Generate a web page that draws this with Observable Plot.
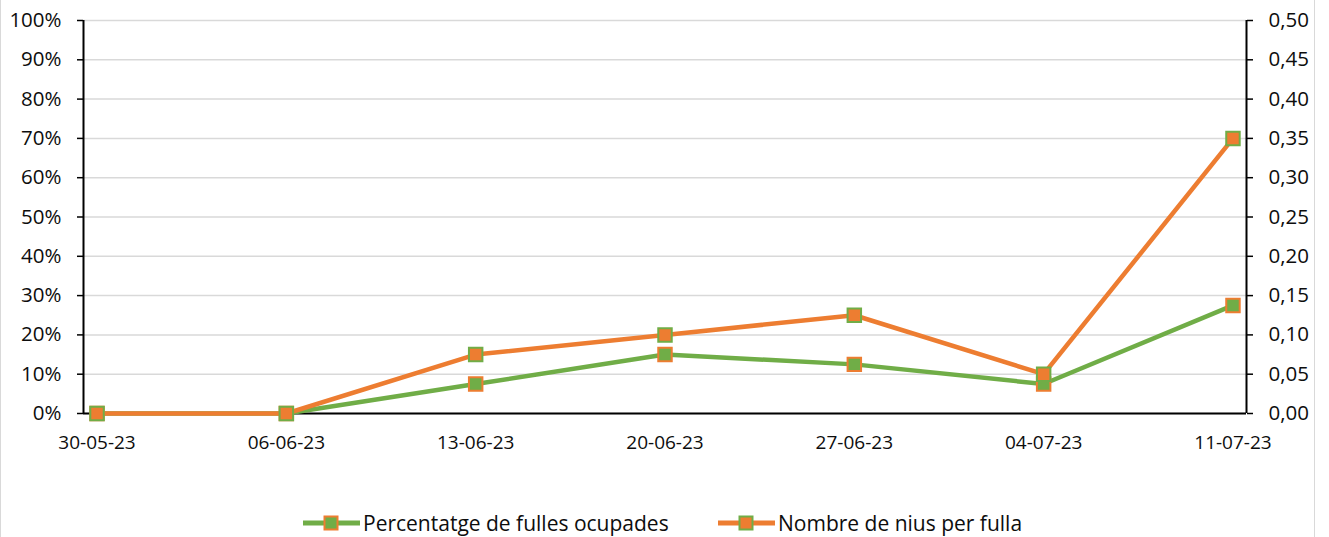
<!DOCTYPE html>
<html>
<head>
<meta charset="utf-8">
<script src="https://cdn.jsdelivr.net/npm/d3@7"></script>
<script src="https://cdn.jsdelivr.net/npm/@observablehq/plot@0.6"></script>
<style>
  html, body { margin: 0; padding: 0; background: #fff; }
  #wrap { position: relative; width: 1313px; height: 537px; border-left: 1px solid #d9d9d9; border-right: 1px solid #d9d9d9; overflow: hidden; font-family: "Open Sans", sans-serif; }
  #chart { position: absolute; left: -1px; top: 0; width: 1329px; }
  #chart svg { max-width: none !important; }
  #legend { position: absolute; left: -1px; top: 508px; width: 1329px; height: 30px; font-size: 21px; color: #0d0d0d; }
  .item { position: absolute; top: 0; display: flex; align-items: center; height: 30px; }
  .item svg { margin-right: 3px; }
</style>
</head>
<body>
<div id="wrap">
  <div id="chart"></div>
  <div id="legend"></div>
</div>
<script>
const dates = ["2023-05-30", "2023-06-06", "2023-06-13", "2023-06-20", "2023-06-27", "2023-07-04", "2023-07-11"];
const percentatge = [0, 0, 0.075, 0.15, 0.125, 0.075, 0.275];
const nius = [0, 0, 0.075, 0.10, 0.125, 0.05, 0.35];
const leftTicks = [0, 0.1, 0.2, 0.3, 0.4, 0.5, 0.6, 0.7, 0.8, 0.9, 1.0];
const seriesNames = ["Percentatge de fulles ocupades", "Nombre de nius per fulla"];
const green = "#70ad47", orange = "#ed7d31";

const parse = d3.utcParse("%Y-%m-%d");
const xs = dates.map(parse);
const half = 12 * 3600 * 1000;
const xDomain = [new Date(+xs[0] - half), new Date(+xs[xs.length - 1] + half)];
const rightMax = 0.5;

const dataG = xs.map((d, i) => ({date: d, v: percentatge[i]}));
const dataO = xs.map((d, i) => ({date: d, v: nius[i] / rightMax}));

const fmtDate = d3.utcFormat("%d-%m-%y");
const comma = v => v.toFixed(2).replace(".", ",");

const plot = Plot.plot({
  width: 1329,
  height: 480,
  marginLeft: 83,
  marginRight: 83,
  marginTop: 20,
  marginBottom: 67,
  style: {fontFamily: "Open Sans", fontSize: "19px", color: "#0d0d0d", background: "transparent", maxWidth: "none"},
  x: {type: "utc", domain: xDomain},
  y: {domain: [0, 1]},
  marks: [
    Plot.gridY(leftTicks, {stroke: "#d9d9d9", strokeOpacity: 1, strokeWidth: 1.5}),
    Plot.axisY(leftTicks, {anchor: "left", tickSize: 6, tickPadding: 16, tickFormat: d => Math.round(d * 100) + "%", label: null, stroke: "#000", strokeWidth: 1.5, fontSize: 20.5}),
    Plot.axisY(leftTicks, {anchor: "right", tickSize: 6, tickPadding: 16, tickFormat: d => comma(d * rightMax), label: null, stroke: "#000", strokeWidth: 1.5, fontSize: 20.5}),
    Plot.axisX(xs, {anchor: "bottom", tickSize: 0, tickPadding: 22, tickFormat: fmtDate, label: null, fontSize: 19}),
    Plot.ruleX(xDomain, {stroke: "#000", strokeWidth: 2}),
    Plot.ruleY([0], {stroke: "#000", strokeWidth: 2}),
    Plot.line(dataG, {x: "date", y: "v", stroke: green, strokeWidth: 4.5, strokeLinejoin: "round"}),
    Plot.dot(dataG, {x: "date", y: "v", symbol: "square", r: 7.6, fill: green, stroke: orange, strokeWidth: 2}),
    Plot.line(dataO, {x: "date", y: "v", stroke: orange, strokeWidth: 4.5, strokeLinejoin: "round"}),
    Plot.dot(dataO, {x: "date", y: "v", symbol: "square", r: 7.6, fill: orange, stroke: green, strokeWidth: 2})
  ]
});
document.getElementById("chart").appendChild(plot);

// Legend
const legend = d3.select("#legend");
const items = [
  {name: seriesNames[0], line: green, fill: green, stroke: orange, left: 303},
  {name: seriesNames[1], line: orange, fill: orange, stroke: green, left: 718}
];
items.forEach(it => {
  const div = legend.append("div").attr("class", "item").style("left", it.left + "px");
  const s = div.append("svg").attr("width", 57).attr("height", 30);
  s.append("line").attr("x1", 0).attr("x2", 57).attr("y1", 15).attr("y2", 15)
    .attr("stroke", it.line).attr("stroke-width", 5);
  s.append("rect").attr("x", 21.5).attr("y", 8.5).attr("width", 13).attr("height", 13)
    .attr("fill", it.fill).attr("stroke", it.stroke).attr("stroke-width", 2);
  div.append("span").text(it.name);
});
</script>
</body>
</html>
